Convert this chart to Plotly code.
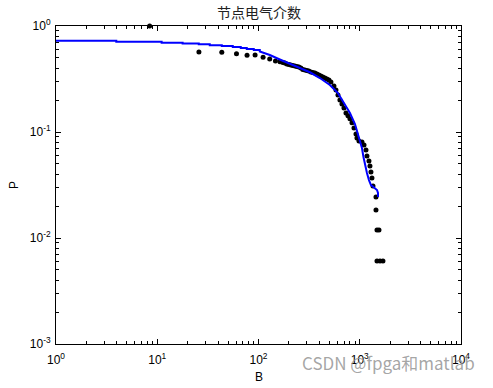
import plotly.graph_objects as go

# ---------------- data ----------------
pts_B = [8.41, 25.8, 43.4, 60.6, 77.1, 92.5, 111, 129, 147, 163,
         174, 182, 190.5, 199.5, 208.5, 218, 228.6, 239.3, 250.5, 262,
         274, 287, 300.6, 314, 329, 344, 360.5, 377.5, 395, 413,
         432.5, 453, 474, 496, 519, 556, 582, 609, 637, 667,
         698, 731, 765, 800, 838, 877, 918, 938, 982, 1052,
         1102, 1152, 1178, 1233, 1261, 1290, 1320, 1351, 1446, 1446,
         1480, 1549, 1480, 1585, 1695]
pts_P = [1.0, 0.568, 0.565, 0.548, 0.529, 0.532, 0.507, 0.489, 0.468, 0.461,
         0.453, 0.448, 0.438, 0.433, 0.429, 0.424, 0.419, 0.415, 0.410, 0.402,
         0.389, 0.385, 0.380, 0.376, 0.368, 0.364, 0.360, 0.353, 0.345, 0.338,
         0.330, 0.323, 0.316, 0.310, 0.296, 0.272, 0.249, 0.223, 0.200, 0.184,
         0.168, 0.151, 0.142, 0.133, 0.122, 0.109, 0.0958, 0.0878, 0.0822, 0.0805,
         0.0754, 0.0676, 0.0594, 0.0533, 0.0478, 0.0420, 0.0368, 0.0310, 0.0244, 0.0184,
         0.0119, 0.0119, 0.00607, 0.00607, 0.00607]

step_B = [1, 3.94, 11.05, 17.8, 25.7, 33.0, 43.4, 55.7, 66.8, 76.6, 89.8]
step_P = [0.725, 0.711, 0.696, 0.684, 0.672, 0.659, 0.647, 0.634, 0.620, 0.607, 0.594]
curve_B = [103, 129.4, 162.4, 204, 256, 321.7, 404, 507, 608.7, 714,
           800, 896.7, 960, 1005, 1051, 1088, 1126, 1178, 1233, 1291,
           1382, 1480, 1514, 1514]
curve_P = [0.574, 0.5325, 0.483, 0.438, 0.403, 0.366, 0.323, 0.2776, 0.2333, 0.1798,
           0.151, 0.119, 0.0937, 0.0822, 0.0706, 0.0581, 0.0488, 0.0410, 0.0352, 0.0316,
           0.02995, 0.02836, 0.02657, 0.02436]

x_ticks = [1, 10, 100, 1000, 10000]
x_tick_text = ["10<sup>0</sup>", "10<sup>1</sup>", "10<sup>2</sup>", "10<sup>3</sup>", "10<sup>4</sup>"]
y_ticks = [0.001, 0.01, 0.1, 1]
y_tick_text = ["10<sup>-3</sup>", "10<sup>-2</sup>", "10<sup>-1</sup>", "10<sup>0</sup>"]
x_minor = [m * 10 ** k for k in range(0, 4) for m in range(2, 10)]
y_minor = [m * 10.0 ** k for k in range(-3, 0) for m in range(2, 10)]

title_text = "节点电气介数"
x_label = "B"
y_label = "P"
watermark = "CSDN @fpga和matlab"

# ---------------- build line (steps then curve) ----------------
line_B, line_P = [], []
for i in range(len(step_B)):
    line_B.append(step_B[i])
    line_P.append(step_P[i])
    nxt = step_B[i + 1] if i + 1 < len(step_B) else curve_B[0]
    line_B.append(nxt)
    line_P.append(step_P[i])
line_B += curve_B
line_P += curve_P

fig = go.Figure()
fig.add_trace(go.Scatter(x=pts_B, y=pts_P, mode="markers",
                         marker=dict(color="black", size=5, symbol="circle"),
                         showlegend=False, cliponaxis=False))
fig.add_trace(go.Scatter(x=line_B, y=line_P, mode="lines",
                         line=dict(color="#0000FF", width=2),
                         showlegend=False))

font_main = "Liberation Sans, Arial, sans-serif"
axis_common = dict(
    type="log", showgrid=False, zeroline=False, automargin=False,
    showline=True, linecolor="black", linewidth=1, mirror="allticks",
    ticks="inside", ticklen=5, tickwidth=1, tickcolor="black",
    tickfont=dict(family=font_main, size=12, color="black"),
)

fig.update_layout(
    width=493, height=388,
    margin=dict(l=56, r=32, t=26, b=44, autoexpand=False),
    paper_bgcolor="white", plot_bgcolor="white",
    xaxis=dict(axis_common, range=[0, 4], tickmode="array", tickvals=x_ticks, ticktext=x_tick_text,
               minor=dict(tickmode="array", tickvals=x_minor, ticks="inside", ticklen=3,
                          tickwidth=1, tickcolor="black", showgrid=False),
               ticklabelstandoff=5),
    yaxis=dict(axis_common, range=[-3, 0], tickmode="array", tickvals=y_ticks, ticktext=y_tick_text,
               minor=dict(tickmode="array", tickvals=y_minor, ticks="inside", ticklen=3,
                          tickwidth=1, tickcolor="black", showgrid=False),
               ticklabelstandoff=2),
    annotations=[
        dict(text=title_text, x=0.5, y=1, xref="paper", yref="paper", showarrow=False,
             font=dict(family="Noto Sans CJK SC", size=14, color="#222"),
             yanchor="middle", xanchor="center", yshift=14),
        dict(text=x_label, x=0.5, y=0, xref="paper", yref="paper", showarrow=False,
             font=dict(family=font_main, size=12, color="black"),
             yanchor="middle", xanchor="center", yshift=-33),
        dict(text=y_label, x=0, y=0.5, xref="paper", yref="paper", showarrow=False,
             font=dict(family=font_main, size=12, color="black"), textangle=-90,
             yanchor="middle", xanchor="center", xshift=-42),
        dict(text=watermark, x=1, y=0, xref="paper", yref="paper", showarrow=False,
             font=dict(family="Noto Sans CJK SC", size=17, color="rgba(150,150,150,0.85)"),
             xanchor="right", yanchor="middle", xshift=16, yshift=-18),
    ],
)

fig.write_html("out.html", config={"displayModeBar": False},
               post_script="document.body.style.margin='0';")
